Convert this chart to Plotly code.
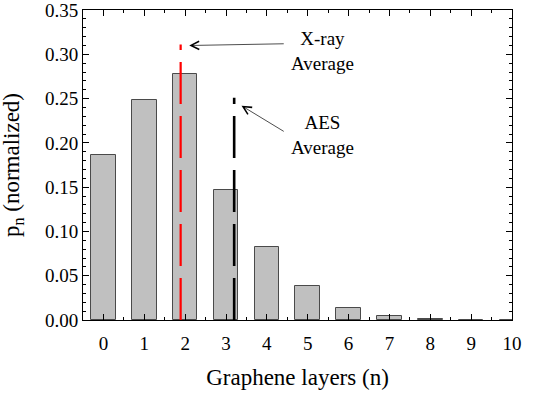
import plotly.graph_objects as go

# distribution of graphene layer counts
layers = [0, 1, 2, 3, 4, 5, 6, 7, 8, 9, 10]
p_n = [0.186, 0.249, 0.278, 0.147, 0.082, 0.038, 0.014, 0.0045, 0.0012, 0.0002, 0.0]
y_ticks = [0.0, 0.05, 0.10, 0.15, 0.20, 0.25, 0.30, 0.35]

# averages (position, height of marker line)
xray_avg = 1.89
xray_top = 0.311
aes_avg = 3.2
aes_top = 0.251

FONT = 'Liberation Serif'

fig = go.Figure()
fig.add_trace(go.Bar(
    x=layers, y=p_n, width=0.6,
    marker=dict(color='#c0c0c0', line=dict(color='#4a4a4a', width=1)),
    showlegend=False,
))
fig.add_trace(go.Scatter(
    x=[xray_avg, xray_avg], y=[0, xray_top], mode='lines',
    line=dict(color='#ff0000', width=2.2, dash='42px,12px'), showlegend=False,
))
fig.add_trace(go.Scatter(
    x=[aes_avg, aes_avg], y=[0, aes_top], mode='lines',
    line=dict(color='#000000', width=2.6, dash='42px,12px'), showlegend=False,
))

# arrows + labels
fig.add_annotation(x=2.1, y=0.310, ax=4.45, ay=0.312, xref='x', yref='y',
                   axref='x', ayref='y', showarrow=True, arrowhead=5, arrowsize=2.3,
                   arrowwidth=0.7, arrowcolor='#000', text='')
fig.add_annotation(x=3.38, y=0.242, ax=4.45, ay=0.212, xref='x', yref='y',
                   axref='x', ayref='y', showarrow=True, arrowhead=5, arrowsize=2.3,
                   arrowwidth=0.7, arrowcolor='#000', text='')
fig.add_annotation(x=5.35, y=0.304, xref='x', yref='y', showarrow=False,
                   text='X-ray<br>Average', font=dict(family=FONT, size=19, color='#000'),
                   align='center')
fig.add_annotation(x=5.35, y=0.209, xref='x', yref='y', showarrow=False,
                   text='AES<br>Average', font=dict(family=FONT, size=19, color='#000'),
                   align='center')
# y title placed by hand
fig.add_annotation(x=-0.163, y=0.5, xref='paper', yref='paper', showarrow=False,
                   xanchor='center', yanchor='middle',
                   text='p<sub>n</sub> (normalized)', textangle=-90,
                   font=dict(family=FONT, size=23, color='#000'))

fig.update_layout(
    width=545, height=393,
    margin=dict(l=83, r=33, t=10, b=73),
    paper_bgcolor='white', plot_bgcolor='white',
    font=dict(family=FONT, size=19, color='#000'),
    bargap=0,
)
fig.update_xaxes(
    range=[-0.5, 10], tickmode='array', tickvals=layers, automargin=False,
    ticks='inside', ticklen=6, tickcolor='#000', showline=True, linecolor='#000',
    linewidth=1, mirror='allticks', showgrid=False, zeroline=False,
    minor=dict(dtick=0.5, ticks='inside', ticklen=3, tickcolor='#000'),
    title=dict(text='Graphene layers (n)', font=dict(size=23), standoff=16),
    tickfont=dict(size=19), ticklabelstandoff=6, ticklabeloverflow='allow',
)
fig.update_yaxes(
    range=[0, 0.3501], tickmode='array', tickvals=y_ticks, tickformat='.2f',
    automargin=False,
    ticks='inside', ticklen=6, tickcolor='#000', showline=True, linecolor='#000',
    linewidth=1, mirror='allticks', showgrid=False, zeroline=False,
    minor=dict(dtick=0.01, ticks='inside', ticklen=3, tickcolor='#000'),
    tickfont=dict(size=19), ticklabeloverflow='allow',
)

fig.write_html('out.html', config={'displayModeBar': False},
               post_script="document.body.style.margin='0px';")
